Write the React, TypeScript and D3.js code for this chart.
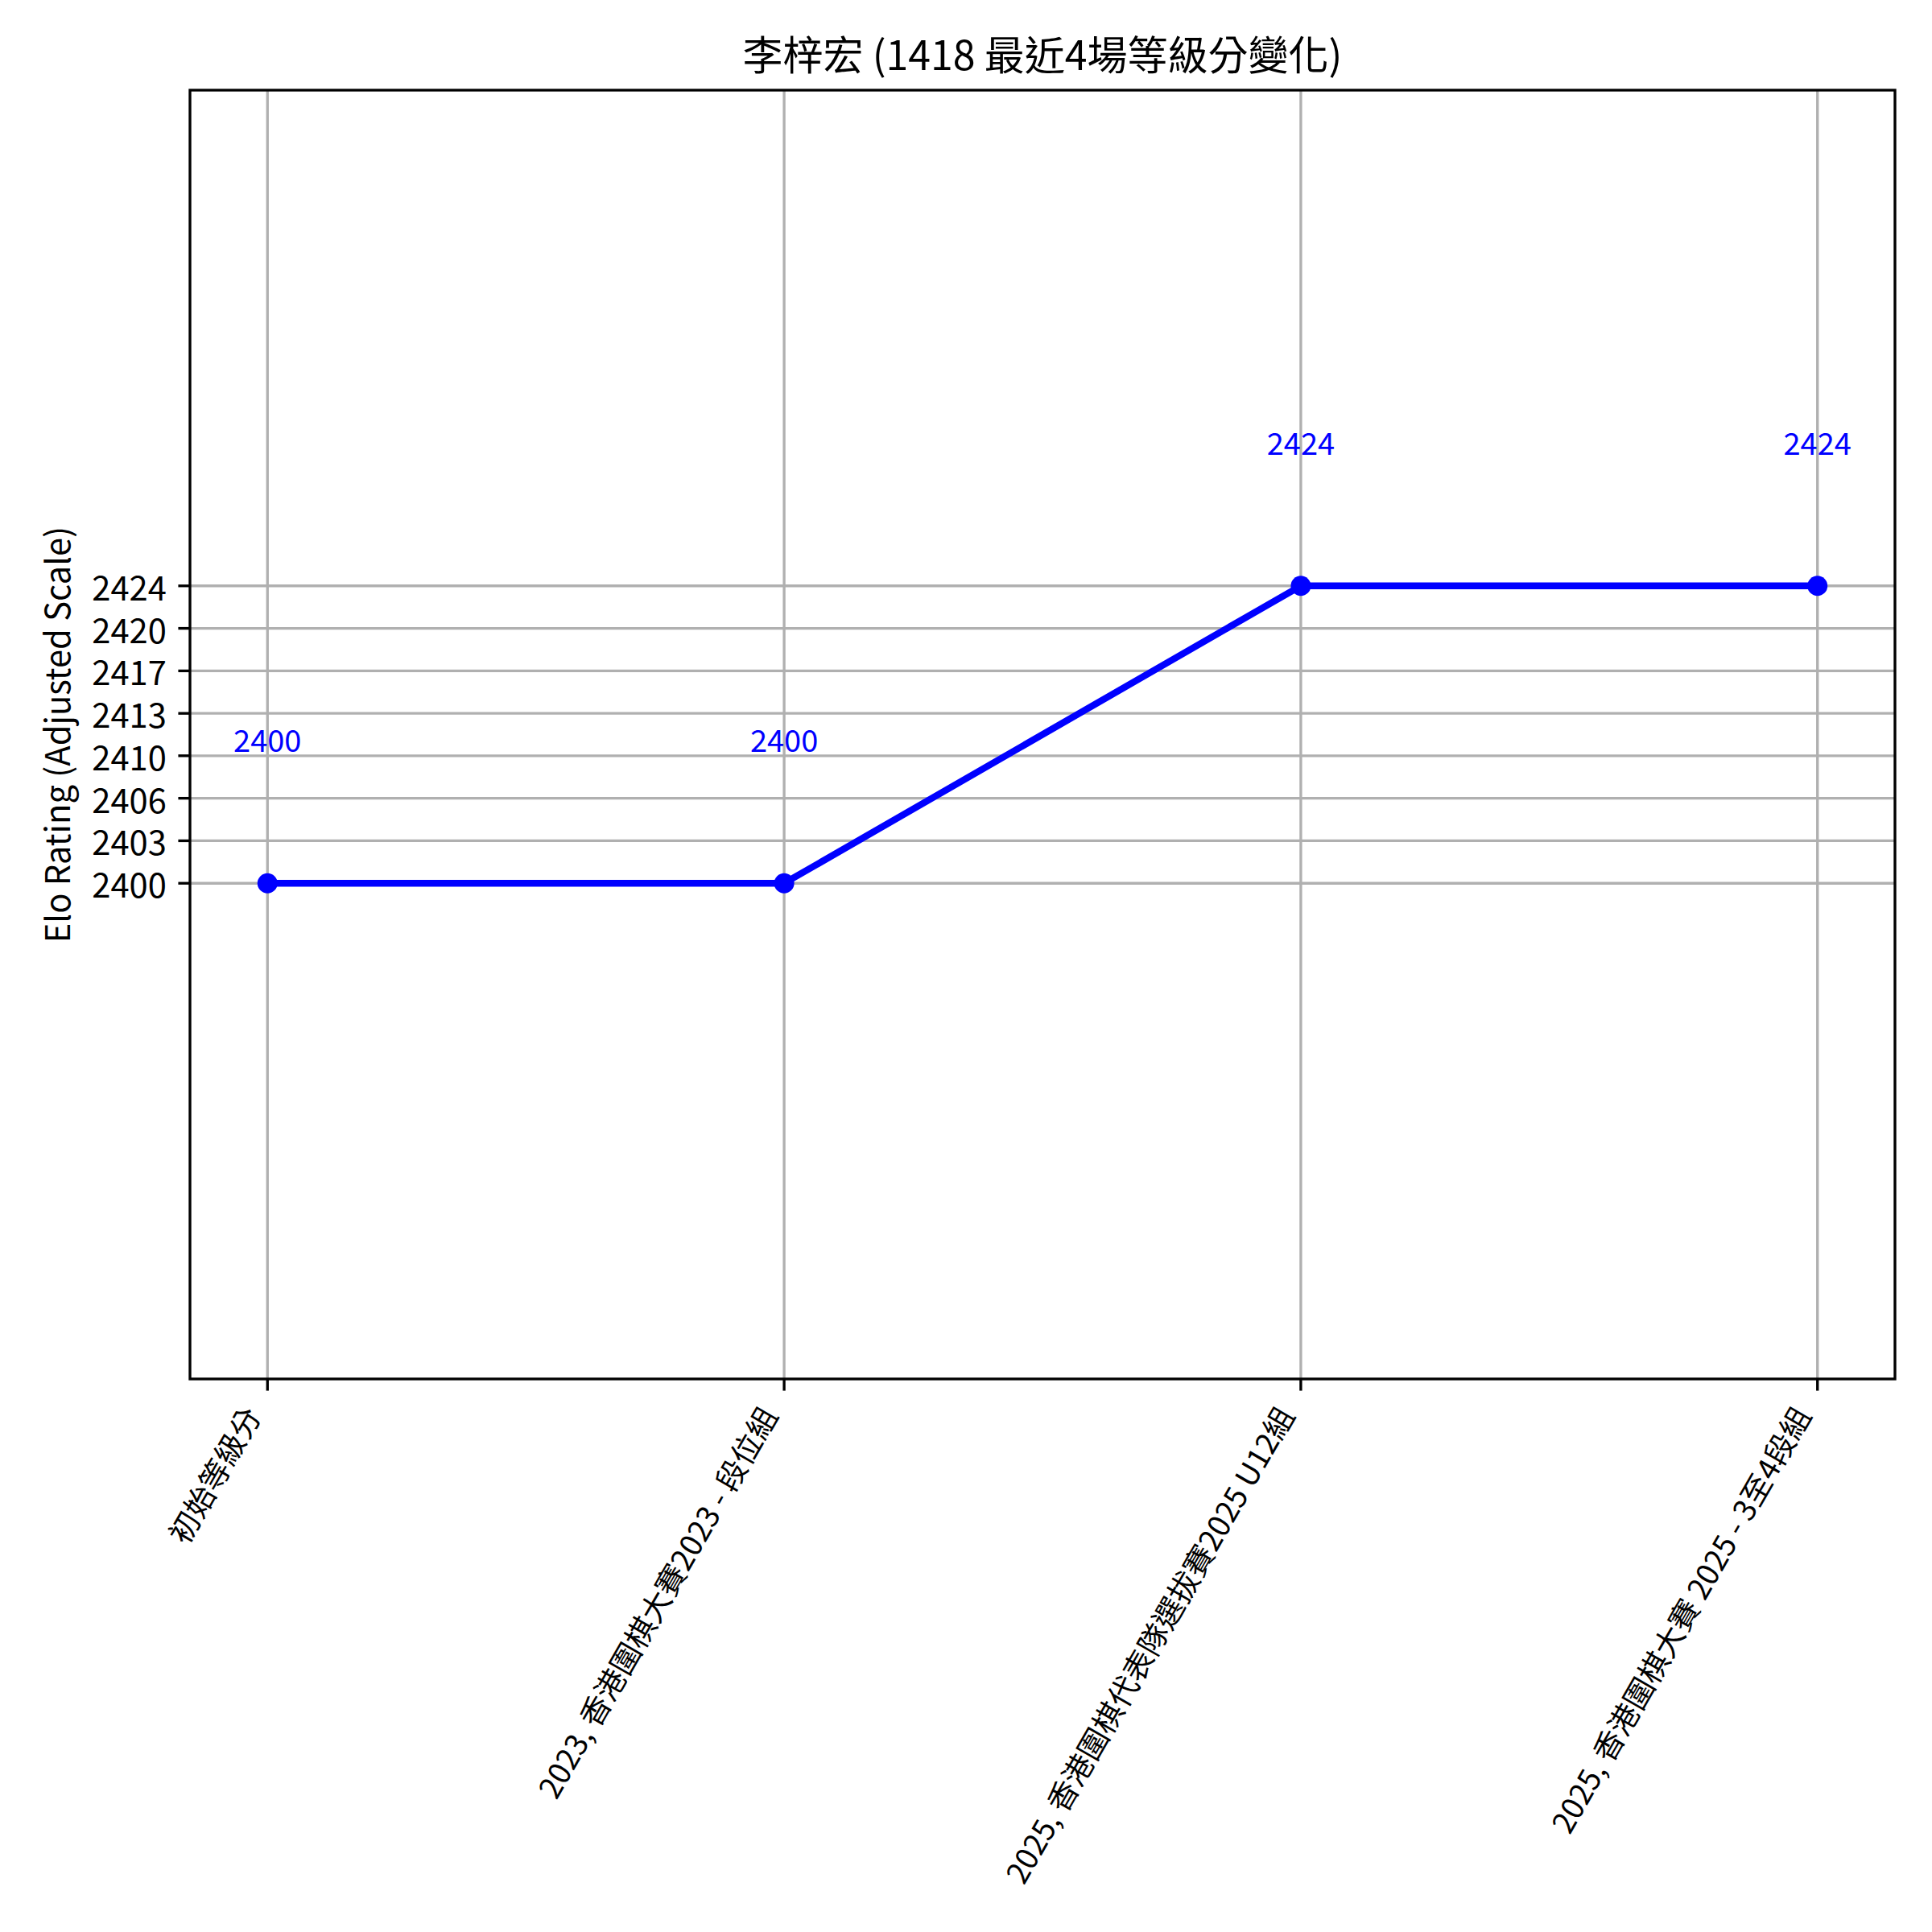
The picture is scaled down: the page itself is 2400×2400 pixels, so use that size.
import React from "react";
import * as d3 from "d3";

const titleText = "李梓宏 (1418 最近4場等級分變化)";
const yAxisLabel = "Elo Rating (Adjusted Scale)";
const categories = [
  "初始等級分",
  "2023, 香港圍棋大賽2023 - 段位組",
  "2025, 香港圍棋代表隊選拔賽2025 U12組",
  "2025, 香港圍棋大賽 2025 - 3至4段組",
];
const ratings = [2400, 2400, 2424, 2424];
const yTickValues = [2400, 2403.43, 2406.86, 2410.29, 2413.71, 2417.14, 2420.57, 2424];
const yTickLabels = ["2400", "2403", "2406", "2410", "2413", "2417", "2420", "2424"];

const W = 2400;
const H = 2400;
const FONT = "'Noto Sans CJK TC', 'Noto Sans', sans-serif";
const PT = 300 / 72;

export default function App() {
  const left = 236, right = 2354, top = 112, bottom = 1713;
  const x = d3.scaleLinear().domain([-0.15, categories.length - 1 + 0.15]).range([left, right]);
  const yMin = d3.min(ratings)! - 40;
  const yMax = d3.max(ratings)! + 40;
  const y = d3.scaleLinear().domain([yMin, yMax]).range([bottom, top]);
  const line = d3.line<number>().x((_, i) => x(i)).y((d) => y(d));

  const tickLen = 3.5 * PT;
  const pad = 3.5 * PT;
  const gridW = 0.8 * PT;
  const tickFs = 10 * PT;
  const xLabFs = 37.5;
  const annFs = 38;
  const asc = 0.86 * xLabFs;
  const desc = 0.2 * xLabFs;
  const labelY = bottom + tickLen + pad;

  return (
    <svg width={W} height={H} style={{ position: "absolute", left: 0, top: 0, background: "#fff" }} fontFamily={FONT}>
      <rect x={0} y={0} width={W} height={H} fill="#fff" />
      {/* grid */}
      {categories.map((_, i) => (
        <line key={"gx" + i} x1={x(i)} x2={x(i)} y1={top} y2={bottom} stroke="#b0b0b0" strokeWidth={gridW} />
      ))}
      {yTickValues.map((v, i) => (
        <line key={"gy" + i} x1={left} x2={right} y1={y(v)} y2={y(v)} stroke="#b0b0b0" strokeWidth={gridW} />
      ))}
      {/* data line */}
      <path d={line(ratings)!} fill="none" stroke="#0000ff" strokeWidth={2 * PT} strokeLinejoin="round" strokeLinecap="square" />
      {ratings.map((r, i) => (
        <circle key={"m" + i} cx={x(i)} cy={y(r)} r={3 * PT} fill="#0000ff" />
      ))}
      {ratings.map((r, i) => (
        <text key={"a" + i} x={x(i)} y={y(r + 10) - 9} textAnchor="middle" fontSize={annFs} fill="#0000ff">
          {String(r)}
        </text>
      ))}
      {/* spines */}
      <rect x={left} y={top} width={right - left} height={bottom - top} fill="none" stroke="#000" strokeWidth={gridW} />
      {/* y ticks */}
      {yTickValues.map((v, i) => (
        <g key={"yt" + i}>
          <line x1={left - tickLen} x2={left} y1={y(v)} y2={y(v)} stroke="#000" strokeWidth={gridW} />
          <text x={left - tickLen - pad} y={y(v)} textAnchor="end" dominantBaseline="central" fontSize={tickFs} fill="#000">
            {yTickLabels[i]}
          </text>
        </g>
      ))}
      {/* x ticks */}
      {categories.map((c, i) => (
        <g key={"xt" + i}>
          <line x1={x(i)} x2={x(i)} y1={bottom} y2={bottom + tickLen} stroke="#000" strokeWidth={gridW} />
          <text
            transform={`translate(${x(i) - 0.866 * desc},${labelY + 0.5 * asc}) rotate(-60)`}
            textAnchor="end"
            fontSize={xLabFs}
            fill="#000"
          >
            {c}
          </text>
        </g>
      ))}
      {/* y label */}
      <text transform={`translate(69,${(top + bottom) / 2}) rotate(-90)`} textAnchor="middle" dominantBaseline="central" fontSize={tickFs} fill="#000">
        {yAxisLabel}
      </text>
      {/* title */}
      <text x={(left + right) / 2} y={87} textAnchor="middle" fontSize={12 * PT} fill="#000">
        {titleText}
      </text>
    </svg>
  );
}
